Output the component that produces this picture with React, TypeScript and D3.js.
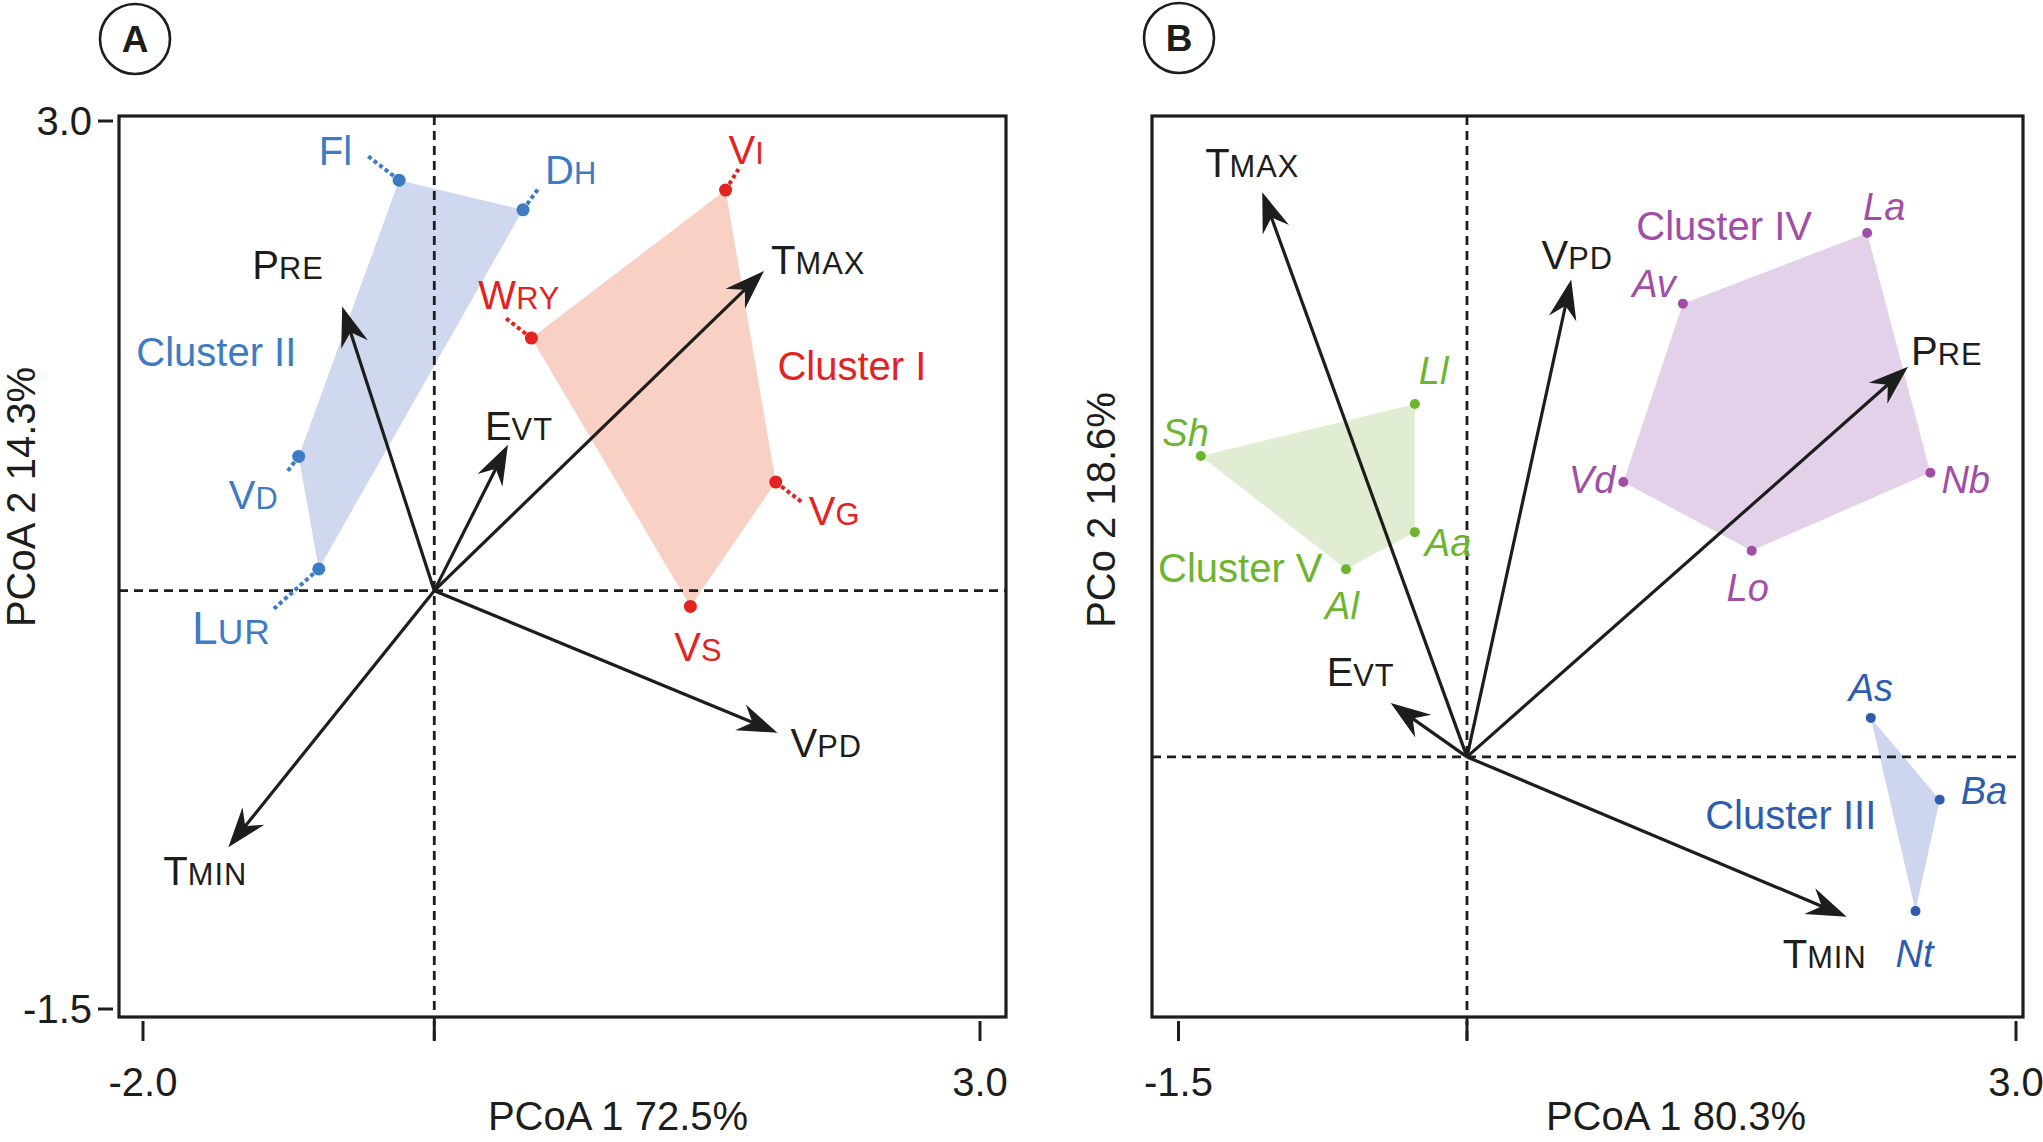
/**
 * Two PCoA biplots (A: regions, B: species) with environmental vectors
 * and cluster hulls. Drawn as JSX with d3 scales.
 */
import * as d3 from 'd3';

type Site = { key: string; big: string; small: string; x: number; y: number };
type Vec = { key: string; big: string; small: string; x: number; y: number };
type Cluster = { name: string; members: string[]; x: number; y: number; tone: string };

// ---------- Panel A data ----------
const aOrigin = { x: -0.26, y: 0.62 };

const aSites: Site[] = [
  { key: 'Fl', big: 'Fl', small: '', x: -0.47, y: 2.7 },
  { key: 'Dh', big: 'D', small: 'H', x: 0.27, y: 2.55 },
  { key: 'Vd', big: 'V', small: 'D', x: -1.07, y: 1.3 },
  { key: 'Lur', big: 'L', small: 'UR', x: -0.95, y: 0.73 },
  { key: 'Vi', big: 'V', small: 'I', x: 1.48, y: 2.65 },
  { key: 'Wry', big: 'W', small: 'RY', x: 0.32, y: 1.9 },
  { key: 'Vg', big: 'V', small: 'G', x: 1.78, y: 1.17 },
  { key: 'Vs', big: 'V', small: 'S', x: 1.27, y: 0.54 },
];

const aVectors: Vec[] = [
  { key: 'Pre', big: 'P', small: 'RE', x: -0.81, y: 2.06 },
  { key: 'Tmax', big: 'T', small: 'MAX', x: 1.71, y: 2.24 },
  { key: 'Evt', big: 'E', small: 'VT', x: 0.18, y: 1.36 },
  { key: 'Vpd', big: 'V', small: 'PD', x: 1.79, y: -0.1 },
  { key: 'Tmin', big: 'T', small: 'MIN', x: -1.49, y: -0.68 },
];

const aClusters: Cluster[] = [
  { name: 'Cluster II', members: ['Fl', 'Dh', 'Lur', 'Vd'], x: -2.04, y: 1.76, tone: 'blue' },
  { name: 'Cluster I', members: ['Vi', 'Vg', 'Vs', 'Wry'], x: 1.79, y: 1.69, tone: 'red' },
];

// ---------- Panel B data ----------
const bOrigin = { x: 0.05, y: 0 };

const bSites: Site[] = [
  { key: 'La', big: 'La', small: '', x: 2.2, y: 2.82 },
  { key: 'Av', big: 'Av', small: '', x: 1.21, y: 2.44 },
  { key: 'Vd', big: 'Vd', small: '', x: 0.89, y: 1.48 },
  { key: 'Lo', big: 'Lo', small: '', x: 1.58, y: 1.11 },
  { key: 'Nb', big: 'Nb', small: '', x: 2.54, y: 1.53 },
  { key: 'Ll', big: 'Ll', small: '', x: -0.23, y: 1.9 },
  { key: 'Sh', big: 'Sh', small: '', x: -1.38, y: 1.62 },
  { key: 'Aa', big: 'Aa', small: '', x: -0.23, y: 1.21 },
  { key: 'Al', big: 'Al', small: '', x: -0.6, y: 1.01 },
  { key: 'As', big: 'As', small: '', x: 2.22, y: 0.21 },
  { key: 'Ba', big: 'Ba', small: '', x: 2.59, y: -0.23 },
  { key: 'Nt', big: 'Nt', small: '', x: 2.46, y: -0.83 },
];

const bVectors: Vec[] = [
  { key: 'Tmax', big: 'T', small: 'MAX', x: -1.05, y: 3.04 },
  { key: 'Vpd', big: 'V', small: 'PD', x: 0.61, y: 2.57 },
  { key: 'Pre', big: 'P', small: 'RE', x: 2.42, y: 2.1 },
  { key: 'Evt', big: 'E', small: 'VT', x: -0.36, y: 0.29 },
  { key: 'Tmin', big: 'T', small: 'MIN', x: 2.09, y: -0.86 },
];

const bClusters: Cluster[] = [
  { name: 'Cluster IV', members: ['La', 'Nb', 'Lo', 'Vd', 'Av'], x: 0.96, y: 2.78, tone: 'purple' },
  { name: 'Cluster V', members: ['Sh', 'Ll', 'Aa', 'Al'], x: -1.61, y: 0.94, tone: 'green' },
  { name: 'Cluster III', members: ['As', 'Ba', 'Nt'], x: 1.33, y: -0.39, tone: 'navy' },
];

// ---------- styling / placement ----------
const FONT = '"Liberation Sans", Arial, Helvetica, sans-serif';
const INK = '#1d1d1b';

const tones: Record<string, { text: string; fill: string }> = {
  blue: { text: '#3d7cc4', fill: '#cfd8ee' },
  red: { text: '#e3231f', fill: '#f8d0c4' },
  purple: { text: '#a04ea6', fill: '#e3d1e9' },
  green: { text: '#6cb52f', fill: '#e0edd2' },
  navy: { text: '#2e5db0', fill: '#cdd5ef' },
};

type Anchor = 'start' | 'middle' | 'end';
// label offset from point: dx, dy, anchor, optional leader end (lx, ly)
const aSiteLabels: Record<string, [number, number, Anchor, number?, number?]> = {
  Fl: [-47, -15, 'end', -31, -24],
  Dh: [22, -26, 'start', 16, -22],
  Vd: [-20, 53, 'end', -12, 16],
  Lur: [-48, 75, 'end', -45, 40],
  Vi: [3, -26, 'start', 13, -21],
  Wry: [-53, -29, 'start', -27, -21],
  Vg: [33, 43, 'start', 26, 20],
  Vs: [8, 55, 'middle'],
};
const labelSize: Record<string, number> = { Lur: 46 };
const aVecLabels: Record<string, [number, number, Anchor]> = {
  Pre: [-90, -27, 'start'],
  Tmax: [7, 3, 'start'],
  Evt: [-23, -5, 'start'],
  Vpd: [13, 24, 'start'],
  Tmin: [-65, 38, 'start'],
};
const bSiteLabels: Record<string, [number, number, Anchor]> = {
  La: [-4, -13, 'start'],
  Av: [-7, -7, 'end'],
  Vd: [-8, 11, 'end'],
  Nb: [11, 20, 'start'],
  Lo: [-4, 50, 'middle'],
  Ll: [4, -20, 'start'],
  Sh: [8, -10, 'end'],
  Aa: [10, 24, 'start'],
  Al: [-4, 50, 'middle'],
  As: [0, -17, 'middle'],
  Ba: [21, 4, 'start'],
  Nt: [-20, 56, 'start'],
};
const bVecLabels: Record<string, [number, number, Anchor]> = {
  Tmax: [-10, -15, 'middle'],
  Vpd: [6, -10, 'middle'],
  Pre: [3, -2, 'start'],
  Evt: [-30, -17, 'middle'],
  Tmin: [20, 51, 'end'],
};

const fmt = d3.formatLocale({ decimal: '.', thousands: ',', grouping: [3], currency: ['', ''], minus: '-' }).format('.1f');

interface PanelProps {
  letter: string;
  badge: [number, number];
  box: { x0: number; x1: number; y0: number; y1: number };
  x: d3.ScaleLinear<number, number>;
  y: d3.ScaleLinear<number, number>;
  xTicks: number[];
  yTicks: number[];
  origin: { x: number; y: number };
  sites: Site[];
  vectors: Vec[];
  clusters: Cluster[];
  siteLabels: Record<string, [number, number, Anchor, number?, number?]>;
  vecLabels: Record<string, [number, number, Anchor]>;
  italic: boolean;
  dotR: number;
  xTitle: string;
  xTitleX: number;
  yTitle: string;
  yTitlePos: [number, number];
}

function SmallCaps({ big, small, x, y, anchor, fill, italic, size }: {
  big: string; small: string; x: number; y: number; anchor: Anchor; fill: string; italic?: boolean; size: number;
}) {
  return (
    <text x={x} y={y} textAnchor={anchor} fill={fill} fontFamily={FONT}
      fontStyle={italic ? 'italic' : 'normal'} fontSize={size}>
      <tspan>{big}</tspan>
      {small && <tspan fontSize={size * 0.77} letterSpacing={1}>{small}</tspan>}
    </text>
  );
}

function Panel(p: PanelProps) {
  const { box, x, y, origin } = p;
  const ox = x(origin.x);
  const oy = y(origin.y);
  const byKey = new Map(p.sites.map((s) => [s.key, s]));
  const toneOf = new Map<string, string>();
  p.clusters.forEach((c) => c.members.forEach((m) => toneOf.set(m, c.tone)));
  const line = d3.line<Site>().x((d) => x(d.x)).y((d) => y(d.y));

  return (
    <g>
      {/* panel badge */}
      <circle cx={p.badge[0]} cy={p.badge[1]} r={35} fill="none" stroke={INK} strokeWidth={2.6} />
      <text x={p.badge[0]} y={p.badge[1] + 13} textAnchor="middle" fontFamily={FONT}
        fontWeight="bold" fontSize={37} fill={INK}>{p.letter}</text>

      {/* cluster hulls */}
      {p.clusters.map((c) => (
        <path key={c.name}
          d={line(c.members.map((m) => byKey.get(m)!))! + 'Z'}
          fill={tones[c.tone].fill} stroke="none" />
      ))}

      {/* crosshair through the origin */}
      <line x1={box.x0} x2={box.x1} y1={oy} y2={oy} stroke={INK} strokeWidth={2.8} strokeDasharray="9 6" />
      <line x1={ox} x2={ox} y1={box.y0} y2={box.y1 + 24} stroke={INK} strokeWidth={2.8} strokeDasharray="9 6" />

      {/* frame */}
      <rect x={box.x0} y={box.y0} width={box.x1 - box.x0} height={box.y1 - box.y0}
        fill="none" stroke={INK} strokeWidth={3.2} />

      {/* x ticks */}
      {[...p.xTicks, origin.x].map((t, i) => (
        <line key={'xt' + i} x1={x(t)} x2={x(t)} y1={box.y1 + 4} y2={box.y1 + 24} stroke={INK} strokeWidth={3} />
      ))}
      {p.xTicks.map((t) => (
        <text key={'xl' + t} x={x(t)} y={1096} textAnchor="middle" fontFamily={FONT} fontSize={40} fill={INK}>
          {fmt(t)}
        </text>
      ))}
      {/* y ticks */}
      {p.yTicks.map((t) => (
        <g key={'yt' + t}>
          <line x1={box.x0 - 21} x2={box.x0 - 6} y1={y(t)} y2={y(t)} stroke={INK} strokeWidth={3} />
          <text x={box.x0 - 27} y={y(t)} dy="0.36em" textAnchor="end" fontFamily={FONT} fontSize={40} fill={INK}>
            {fmt(t)}
          </text>
        </g>
      ))}

      {/* axis titles */}
      <text x={p.xTitleX} y={1130} textAnchor="middle" fontFamily={FONT} fontSize={40} fill={INK}>{p.xTitle}</text>
      <text transform={`translate(${p.yTitlePos[0]},${p.yTitlePos[1]}) rotate(-90)`} textAnchor="middle"
        fontFamily={FONT} fontSize={40} fill={INK}>{p.yTitle}</text>

      {/* environmental vectors */}
      {p.vectors.map((v) => {
        const tx = x(v.x);
        const ty = y(v.y);
        const ang = Math.atan2(ty - oy, tx - ox);
        const len = Math.hypot(tx - ox, ty - oy);
        const deg = (ang * 180) / Math.PI;
        const [dx, dy, anchor] = p.vecLabels[v.key];
        return (
          <g key={'v' + v.key}>
            <line x1={ox} y1={oy} x2={ox + Math.cos(ang) * (len - 20)} y2={oy + Math.sin(ang) * (len - 20)}
              stroke={INK} strokeWidth={3.2} />
            <path transform={`translate(${tx},${ty}) rotate(${deg})`} d="M0,0 L-40,-14 L-27,0 L-40,14 Z" fill={INK} />
            <SmallCaps big={v.big} small={v.small} x={tx + dx} y={ty + dy} anchor={anchor} fill={INK} size={40} />
          </g>
        );
      })}

      {/* leader lines, dots and site labels */}
      {p.sites.map((s) => {
        const col = tones[toneOf.get(s.key)!].text;
        const sx = x(s.x);
        const sy = y(s.y);
        const [dx, dy, anchor, lx, ly] = p.siteLabels[s.key];
        const size = p.italic ? 38 : labelSize[s.key] ?? 40;
        return (
          <g key={'s' + s.key}>
            {lx !== undefined && (
              <line x1={sx} y1={sy} x2={sx + lx} y2={sy + (ly ?? 0)} stroke={col} strokeWidth={4} strokeDasharray="4 3" />
            )}
            <circle cx={sx} cy={sy} r={p.dotR} fill={col} />
            <SmallCaps big={s.big} small={s.small} x={sx + dx} y={sy + dy} anchor={anchor} fill={col}
              italic={p.italic} size={size} />
          </g>
        );
      })}

      {/* cluster names */}
      {p.clusters.map((c) => (
        <text key={'cn' + c.name} x={x(c.x)} y={y(c.y)} fontFamily={FONT} fontSize={40} fill={tones[c.tone].text}>
          {c.name}
        </text>
      ))}
    </g>
  );
}

export default function App() {
  const ax = d3.scaleLinear().domain([-2, 3]).range([143, 980]);
  const ay = d3.scaleLinear().domain([-1.5, 3]).range([1009, 121]);
  const bx = d3.scaleLinear().domain([-1.5, 3]).range([1178.5, 2016]);
  const by = d3.scaleLinear().domain([-1.4, 3.45]).range([1017, 116]);

  return (
    <svg width={2043} height={1142} viewBox="0 0 2043 1142"
      style={{ position: 'absolute', left: 0, top: 0, background: '#fff' }}>
      <rect width={2043} height={1142} fill="#fff" />
      <Panel letter="A" badge={[135, 39]} box={{ x0: 119, x1: 1006, y0: 116, y1: 1017 }}
        x={ax} y={ay} xTicks={[-2, 3]} yTicks={[3, -1.5]} origin={aOrigin}
        sites={aSites} vectors={aVectors} clusters={aClusters}
        siteLabels={aSiteLabels} vecLabels={aVecLabels} italic={false} dotR={6.5}
        xTitle="PCoA 1 72.5%" xTitleX={618} yTitle="PCoA 2 14.3%" yTitlePos={[35, 497]} />
      <Panel letter="B" badge={[1179, 38]} box={{ x0: 1152, x1: 2023, y0: 116, y1: 1017 }}
        x={bx} y={by} xTicks={[-1.5, 3]} yTicks={[]} origin={bOrigin}
        sites={bSites} vectors={bVectors} clusters={bClusters}
        siteLabels={bSiteLabels} vecLabels={bVecLabels} italic={true} dotR={5}
        xTitle="PCoA 1 80.3%" xTitleX={1676} yTitle="PCo 2 18.6%" yTitlePos={[1115, 510]} />
    </svg>
  );
}
